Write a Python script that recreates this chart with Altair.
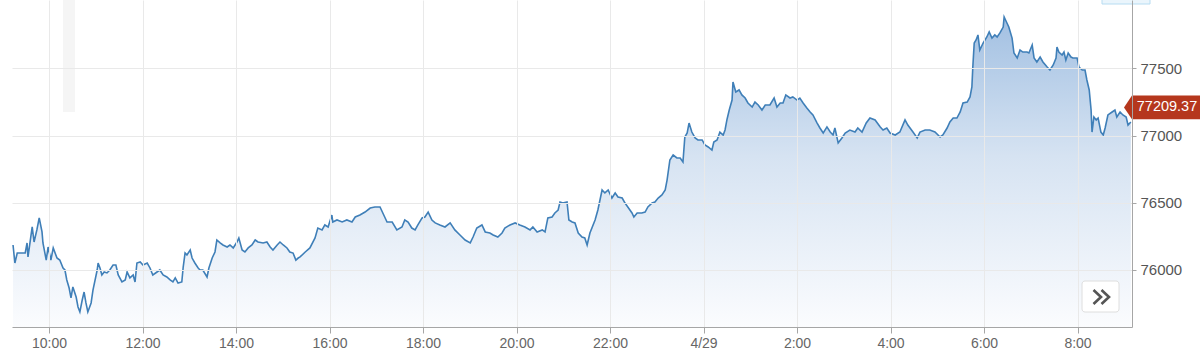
import altair as alt
import pandas as pd

# time in hours since 4/28 00:00 (24 = 4/29 00:00), price values
hours = [
    9.23, 9.27, 9.32, 9.49, 9.53, 9.55, 9.64, 9.68, 9.74, 9.79, 9.85, 9.87, 9.94, 9.98,
    10.04, 10.09, 10.17, 10.23, 10.30, 10.34, 10.38, 10.43, 10.47, 10.51, 10.58, 10.62,
    10.66, 10.71, 10.75, 10.79, 10.83, 10.90, 10.94, 11.03, 11.05, 11.09, 11.13, 11.18,
    11.24, 11.30, 11.37, 11.43, 11.48, 11.56, 11.63, 11.67, 11.73, 11.80, 11.84, 11.88,
    11.95, 12.01, 12.10, 12.16, 12.22, 12.31, 12.37, 12.44, 12.52, 12.59, 12.65, 12.70,
    12.76, 12.84, 12.87, 12.91, 12.95, 13.02, 13.06, 13.12, 13.19, 13.23, 13.29, 13.38,
    13.42, 13.49, 13.55, 13.59, 13.66, 13.72, 13.81, 13.87, 13.94, 14.02, 14.06, 14.13,
    14.19, 14.26, 14.34, 14.41, 14.47, 14.58, 14.66, 14.73, 14.79, 14.88, 14.94, 15.01,
    15.09, 15.15, 15.22, 15.28, 15.33, 15.37, 15.48, 15.58, 15.69, 15.75, 15.84, 15.90,
    15.97, 16.05, 16.07, 16.16, 16.27, 16.37, 16.48, 16.55, 16.65, 16.76, 16.87, 16.97,
    17.08, 17.14, 17.23, 17.34, 17.44, 17.55, 17.61, 17.68, 17.76, 17.83, 17.89, 17.98,
    18.04, 18.11, 18.19, 18.26, 18.36, 18.47, 18.58, 18.68, 18.79, 18.90, 19.01, 19.07,
    19.15, 19.26, 19.33, 19.43, 19.50, 19.60, 19.69, 19.75, 19.86, 19.97, 20.07, 20.18,
    20.29, 20.35, 20.44, 20.55, 20.61, 20.67, 20.76, 20.82, 20.89, 20.93, 20.99, 21.08,
    21.12, 21.19, 21.25, 21.32, 21.40, 21.46, 21.51, 21.57, 21.68, 21.74, 21.83, 21.89,
    21.96, 22.04, 22.11, 22.17, 22.26, 22.32, 22.38, 22.47, 22.51, 22.58, 22.68, 22.75,
    22.81, 22.90, 22.96, 23.03, 23.11, 23.18, 23.22, 23.28, 23.35, 23.43, 23.50, 23.56,
    23.60, 23.65, 23.69, 23.75, 23.82, 23.88, 23.97, 24.03, 24.10, 24.18, 24.22, 24.29,
    24.35, 24.42, 24.46, 24.50, 24.55, 24.61, 24.63, 24.69, 24.76, 24.82, 24.89, 24.95,
    25.04, 25.10, 25.17, 25.25, 25.32, 25.42, 25.51, 25.57, 25.64, 25.70, 25.76, 25.85,
    25.91, 26.00, 26.06, 26.13, 26.21, 26.28, 26.34, 26.43, 26.49, 26.56, 26.64, 26.71,
    26.77, 26.81, 26.88, 26.96, 27.03, 27.13, 27.24, 27.30, 27.39, 27.48, 27.56, 27.67,
    27.78, 27.84, 27.92, 27.99, 28.10, 28.20, 28.31, 28.37, 28.48, 28.57, 28.63, 28.74,
    28.84, 28.95, 29.06, 29.12, 29.21, 29.27, 29.34, 29.42, 29.49, 29.55, 29.64, 29.70,
    29.74, 29.76, 29.79, 29.83, 29.87, 29.91, 29.98, 30.06, 30.11, 30.17, 30.23, 30.28,
    30.34, 30.41, 30.43, 30.49, 30.53, 30.60, 30.64, 30.71, 30.77, 30.83, 30.92, 30.96,
    31.03, 31.07, 31.13, 31.20, 31.26, 31.35, 31.41, 31.48, 31.54, 31.56, 31.60, 31.67,
    31.71, 31.75, 31.80, 31.86, 31.90, 31.99, 32.03, 32.10, 32.16, 32.20, 32.25, 32.29,
    32.31, 32.35, 32.40, 32.44, 32.50, 32.55, 32.59, 32.65, 32.74, 32.80, 32.84, 32.91,
    32.97, 33.04, 33.08, 33.14,
]
prices = [
    76186, 76052, 76126, 76126, 76201, 76097, 76320, 76208, 76298, 76387, 76283, 76201, 76074, 76171,
    76074, 76164, 76089, 76074, 76015, 76000, 75926, 75866, 75792, 75874, 75799, 75725,
    75688, 75777, 75836, 75755, 75688, 75755, 75851, 76000, 76052, 76015, 75963, 75985,
    75978, 76000, 76037, 76037, 75963, 75911, 75926, 75985, 75941, 75963, 75911, 76052,
    76060, 76037, 76052, 76015, 75963, 75985, 76000, 75963, 75948, 75926, 75911, 75941,
    75903, 75911, 76022, 76126, 76112, 76149, 76089, 76052, 76015, 76000, 76000, 75948,
    76015, 76089, 76134, 76223, 76201, 76186, 76171, 76186, 76164, 76208, 76238, 76149,
    76134, 76164, 76186, 76223, 76208, 76201, 76208, 76171, 76149, 76186, 76208, 76186,
    76164, 76134, 76126, 76074, 76089, 76097, 76134, 76164, 76238, 76312, 76298, 76335,
    76320, 76409, 76357, 76372, 76357, 76372, 76357, 76394, 76409, 76431, 76461, 76469,
    76469, 76424, 76357, 76357, 76298, 76320, 76372, 76357, 76312, 76298, 76335, 76387,
    76394, 76431, 76372, 76350, 76335, 76320, 76350, 76298, 76260, 76223, 76201, 76245,
    76312, 76335, 76283, 76275, 76260, 76245, 76275, 76312, 76335, 76350, 76335, 76320,
    76298, 76320, 76283, 76298, 76283, 76387, 76394, 76424, 76446, 76506, 76498, 76506,
    76372, 76357, 76350, 76275, 76245, 76238, 76186, 76275, 76372, 76446, 76595, 76573,
    76595, 76535, 76573, 76543, 76535, 76498, 76469, 76424, 76394, 76424, 76424, 76431,
    76469, 76498, 76506, 76535, 76558, 76595, 76669, 76818, 76855, 76833, 76833, 76803,
    76989, 77019, 77093, 77026, 76982, 76967, 76967, 76930, 76915, 76892, 76952, 76967,
    77026, 77004, 77041, 77116, 77190, 77264, 77398, 77324, 77339, 77302, 77279, 77242,
    77212, 77249, 77227, 77190, 77227, 77227, 77279, 77212, 77242, 77242, 77302, 77279,
    77287, 77264, 77279, 77242, 77205, 77175, 77153, 77093, 77056, 77019, 77064, 77026,
    77004, 77056, 76945, 76982, 77019, 77041, 77026, 77056, 77026, 77093, 77130, 77116,
    77064, 77041, 77056, 77019, 77004, 77026, 77116, 77078, 77026, 76982, 77026, 77041,
    77041, 77026, 76989, 77004, 77056, 77101, 77130, 77130, 77175, 77242, 77249, 77287,
    77361, 77510, 77688, 77711, 77748, 77636, 77688, 77733, 77770, 77725, 77748, 77733,
    77763, 77807, 77882, 77837, 77807, 77725, 77614, 77577, 77636, 77621, 77621, 77614,
    77673, 77577, 77547, 77584, 77547, 77510, 77487, 77525, 77577, 77658, 77621, 77599,
    77621, 77562, 77614, 77584, 77577, 77577, 77510, 77487, 77487, 77413, 77339, 77190,
    77026, 77138, 77116, 77130, 77026, 77004, 77056, 77153, 77175, 77190, 77138, 77175,
    77153, 77138, 77078, 77101,
]

last_price = 77209.37
last_label = "77209.37"
x_ticks = [10, 12, 14, 16, 18, 20, 22, 24, 26, 28, 30, 32]
y_ticks = [76000, 76500, 77000, 77500]
x_domain = [9.208, 33.165]
y_domain = [75576, 78008]

df = pd.DataFrame({"h": hours, "p": prices})

FONT = "Liberation Sans"

x_enc = alt.X(
    "h:Q",
    scale=alt.Scale(domain=x_domain, nice=False, zero=False),
    axis=alt.Axis(
        values=x_ticks,
        labelExpr="datum.value == 24 ? '4/29' : (datum.value % 24) + ':00'",
        title=None,
        grid=True,
        gridColor="#e9e9e9",
        domainColor="#a6a6a6",
        tickColor="#a6a6a6",
        tickSize=6,
        labelColor="#666666",
        labelFontSize=14,
        labelFont=FONT,
        labelPadding=3,
        labelFlush=False,
        zindex=1,
    ),
)
y_enc = alt.Y(
    "p:Q",
    scale=alt.Scale(domain=y_domain, nice=False, zero=False),
    axis=alt.Axis(
        orient="right",
        values=y_ticks,
        format="d",
        title=None,
        grid=True,
        gridColor="#e9e9e9",
        domainColor="#a6a6a6",
        tickColor="#a6a6a6",
        tickSize=4,
        labelColor="#555555",
        labelFontSize=15,
        labelFont=FONT,
        labelPadding=4,
        labelFlush=False,
        zindex=1,
    ),
)

gradient = alt.Gradient(
    gradient="linear",
    stops=[
        alt.GradientStop(color="#fbfcfe", offset=0),
        alt.GradientStop(color="#d6e3f2", offset=0.55),
        alt.GradientStop(color="#a2c0e2", offset=1),
    ],
    x1=1, x2=1, y1=1, y2=0,
)

base = alt.Chart(df)
area = base.mark_area(color=gradient, interpolate="linear").encode(
    x=x_enc, y=y_enc, y2=alt.datum(y_domain[0])
)
line = base.mark_line(color="#3f7fb8", strokeWidth=1.6, interpolate="linear").encode(
    x=alt.X("h:Q"), y=alt.Y("p:Q")
)

# faint decorative elements seen in the screenshot
shadow = alt.Chart(pd.DataFrame({"k": [0]})).mark_rect(color="#f5f5f5", opacity=1).encode(
    x=alt.value(51), x2=alt.value(63), y=alt.value(0), y2=alt.value(112)
)
top_btn = alt.Chart(pd.DataFrame({"k": [0]})).mark_rect(
    fill="#eaf5fc", stroke="#b7dcf2", strokeWidth=1
).encode(x=alt.value(1090), x2=alt.value(1138), y=alt.value(-4), y2=alt.value(4))

tag_df = pd.DataFrame({"p": [last_price], "label": [last_label]})
tag_shape = "M -1 0 L -0.79 -0.31 L 1 -0.31 L 1 0.31 L -0.79 0.31 Z"
tag = alt.Chart(tag_df).mark_point(
    shape=tag_shape, filled=True, fill="#b5371d", stroke="#b5371d", strokeWidth=0,
    size=5776, opacity=1,
).encode(x=alt.value(1150), y=alt.Y("p:Q"))
tag_text = alt.Chart(tag_df).mark_text(
    color="#ffffff", font=FONT, fontSize=14.5, align="center", baseline="middle"
).encode(x=alt.value(1155), y=alt.Y("p:Q"), text="label:N")

btn = alt.Chart(pd.DataFrame({"k": [0]})).mark_rect(
    fill="#ffffff", stroke="#dedede", strokeWidth=1, cornerRadius=3
).encode(x=alt.value(1070), x2=alt.value(1107), y=alt.value(281), y2=alt.value(312))
chev = alt.Chart(pd.DataFrame({"k": [0]})).mark_point(
    shape="M -0.75 -0.7 L 0 0 L -0.75 0.7 M 0.05 -0.7 L 0.8 0 L 0.05 0.7",
    filled=False, stroke="#555555", strokeWidth=2.6, size=400, opacity=1,
).encode(x=alt.value(1089), y=alt.value(297))

chart = alt.layer(shadow, area, line, btn, chev, top_btn, tag, tag_text).properties(
    width=1120,
    height=327,
    padding={"left": 12, "top": 0, "right": 68, "bottom": 33},
    autosize=alt.AutoSizeParams(type="none"),
    background="#ffffff",
).configure_view(strokeWidth=0)

chart.save("out.html", embed_options={"renderer": "svg", "actions": False})
